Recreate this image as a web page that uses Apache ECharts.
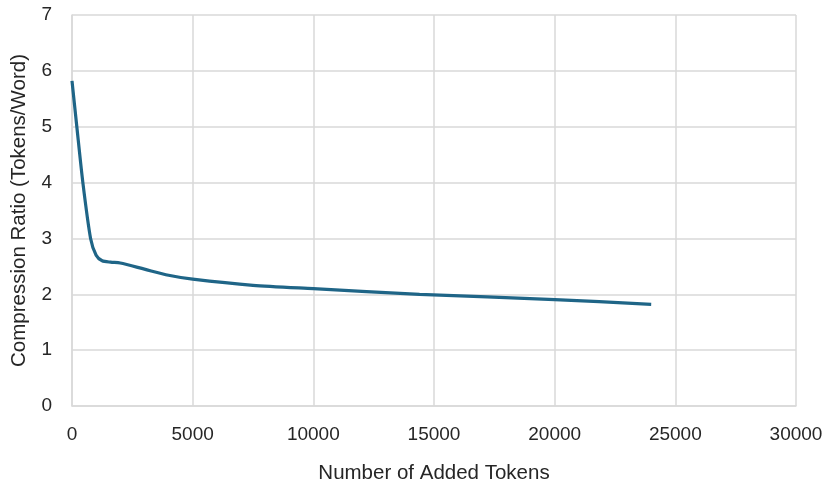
<!DOCTYPE html>
<html>
<head>
<meta charset="utf-8">
<script src="https://cdn.jsdelivr.net/npm/echarts@6/dist/echarts.min.js"></script>
<style>html,body{margin:0;padding:0;background:#fff}#c{width:825px;height:483px}</style>
</head>
<body>
<div id="c"></div>
<script>
const addedTokens = [0, 200, 450, 770, 1000, 1250, 1600, 2000, 3000, 4000, 5000, 7500, 10000, 14400, 20000, 24000];
const compressionRatio = [5.82, 5.0, 4.0, 3.0, 2.70, 2.60, 2.575, 2.56, 2.45, 2.34, 2.27, 2.16, 2.10, 2.00, 1.905, 1.82];
const xTicks = [0, 5000, 10000, 15000, 20000, 25000, 30000];
const yTicks = [0, 1, 2, 3, 4, 5, 6, 7];

const chart = echarts.init(document.getElementById('c'));
const font = 'Liberation Sans, Arial, sans-serif';
chart.setOption({
  animation: false,
  grid: { left: 72, right: 29, top: 15, bottom: 77, containLabel: false, outerBoundsMode: 'none' },
  xAxis: {
    type: 'value', min: xTicks[0], max: xTicks[xTicks.length - 1], interval: 5000,
    name: 'Number of Added Tokens', nameLocation: 'middle', nameGap: 57,
    nameTextStyle: { fontFamily: font, fontSize: 20.5, color: '#262626' },
    axisLine: { show: true, lineStyle: { color: '#d9d9d9', width: 1.5 } },
    axisTick: { show: false },
    axisLabel: { fontFamily: font, fontSize: 19, color: '#262626', margin: 19, formatter: v => String(v) },
    splitLine: { show: true, lineStyle: { color: '#d9d9d9', width: 1.5 } }
  },
  yAxis: {
    type: 'value', min: yTicks[0], max: yTicks[yTicks.length - 1], interval: 1,
    name: 'Compression Ratio (Tokens/Word)', nameLocation: 'middle', nameGap: 42,
    nameTextStyle: { fontFamily: font, fontSize: 20.5, color: '#262626' },
    axisLine: { show: true, lineStyle: { color: '#d9d9d9', width: 1.5 } },
    axisTick: { show: false },
    axisLabel: { fontFamily: font, fontSize: 19, color: '#262626', margin: 20 },
    splitLine: { show: true, lineStyle: { color: '#d9d9d9', width: 1.5 } }
  },
  series: [{
    type: 'line',
    data: addedTokens.map((x, i) => [x, compressionRatio[i]]),
    smooth: 0.25,
    showSymbol: false,
    lineStyle: { color: '#1f6587', width: 3.2 },
    itemStyle: { color: '#1f6587' }
  }]
});
</script>
</body>
</html>
